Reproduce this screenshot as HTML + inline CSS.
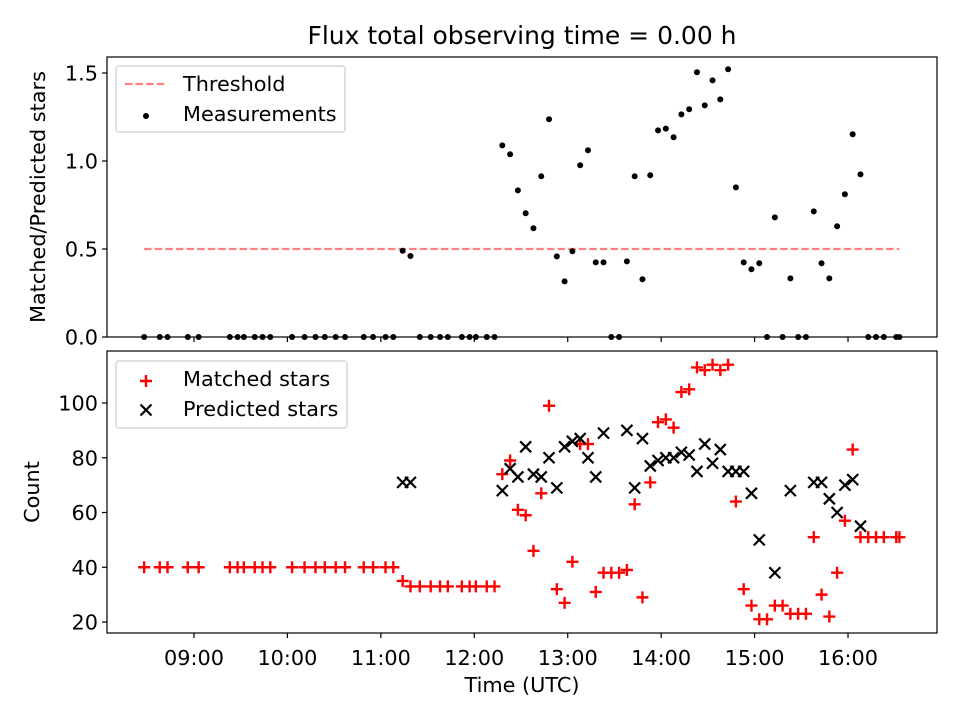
<!DOCTYPE html>
<html><head><meta charset="utf-8"><style>
html,body{margin:0;padding:0;background:#fff}
svg{display:block;font-family:"DejaVu Sans","Liberation Sans",sans-serif}
</style></head><body>
<svg id="chart" width="960" height="720" viewBox="0 0 960 720">
<rect width="960" height="720" fill="#fff"/>
<text x="522" y="44" font-size="25" text-anchor="middle">Flux total observing time = 0.00 h</text>
<g id="topPanel"></g>
<g id="botPanel"></g>
</svg>
<script>
const times = ["08:28","08:38","08:43","08:56","09:03","09:23","09:28","09:32","09:39","09:44","09:49","10:03","10:11","10:18","10:24","10:31","10:37","10:49","10:55","11:03","11:08","11:14","11:19","11:25","11:32","11:38","11:43","11:52","11:57","12:01","12:08","12:13",
"12:18","12:23","12:28","12:33","12:38","12:43","12:48","12:53","12:58","13:03","13:08","13:13","13:18","13:23","13:28","13:33","13:38","13:43","13:48","13:53","13:58","14:03","14:08","14:13","14:18","14:23","14:28","14:33","14:38","14:43","14:48","14:53","14:58","15:03","15:08","15:13","15:18","15:23","15:28","15:33","15:38","15:43","15:48","15:53","15:58","16:03","16:08","16:13","16:18","16:23","16:31","16:33"];
const flux = [0,0,0,0,0,0,0,0,0,0,0,0,0,0,0,0,0,0,0,0,0,0.49,0.46,0,0,0,0,0,0,0,0,0,
1.089,1.038,0.833,0.703,0.618,0.913,1.237,0.458,0.316,0.487,0.976,1.061,0.424,0.424,0,0,0.43,0.913,0.328,0.919,1.174,1.184,1.135,1.265,1.294,1.504,1.316,1.458,1.35,1.521,0.85,0.424,0.385,0.419,0,0.68,0,0.333,0,0,0.714,0.419,0.333,0.629,0.811,1.152,0.924,0,0,0,0,0];
const matched = [40,40,40,40,40,40,40,40,40,40,40,40,40,40,40,40,40,40,40,40,40,35,33,33,33,33,33,33,33,33,33,33,
74,79,61,59,46,67,99,32,27,42,85,85,31,38,38,38,39,63,29,71,93,94,91,104,105,113,112,114,112,114,64,32,26,21,21,26,26,23,23,23,51,30,22,38,57,83,51,51,51,51,51,51];
const predicted = [null,null,null,null,null,null,null,null,null,null,null,null,null,null,null,null,null,null,null,null,null,71,71,null,null,null,null,null,null,null,null,null,
68,76,73,84,74,73,80,69,84,86,87,80,73,89,null,null,90,69,87,77,79,80,80,82,81,75,85,78,83,75,75,75,67,50,null,38,null,68,null,null,71,71,65,60,70,72,55,null,null,null,null,null];
const threshold = 0.5;
const xTicks = ["09:00","10:00","11:00","12:00","13:00","14:00","15:00","16:00"];
const topTicks = [0,0.5,1.0,1.5];
const botTicks = [20,40,60,80,100];

const FS=20.8;
const NS="http://www.w3.org/2000/svg";
function mins(t){const p=t.split(":");return +p[0]*60+ +p[1];}
function X(t){return 194+(mins(t)-540)*93.43/60;}
function YT(v){return 337-v*176;}
function YB(v){return 622-(v-20)*2.7375;}
function mk(parent,tag,attrs){const e=document.createElementNS(NS,tag);for(const k in attrs)e.setAttribute(k,attrs[k]);parent.appendChild(e);return e;}
const gTop=document.getElementById('topPanel'), gBot=document.getElementById('botPanel');

let f=mk(gTop,'rect',{x:107,y:57,width:830,height:280,fill:'none',stroke:'#000','stroke-width':1.2});


f=mk(gBot,'rect',{x:107,y:351,width:830,height:282,fill:'none',stroke:'#000','stroke-width':1.2});



xTicks.forEach(t=>{
  const x=X(t);
  let l=mk(gTop,'line',{x1:x,x2:x,y1:337,y2:342,stroke:'#000','stroke-width':1.2});
  
  
  l=mk(gBot,'line',{x1:x,x2:x,y1:633,y2:638,stroke:'#000','stroke-width':1.2});
  
  
  const tx=mk(gBot,'text',{x:x,y:665,'font-size':FS,'text-anchor':'middle'});
  tx.textContent=t;
  
  
});
topTicks.forEach(v=>{
  const y=YT(v);
  const l=mk(gTop,'line',{x1:102,x2:107,y1:y,y2:y,stroke:'#000','stroke-width':1.2});
  
  
  const tx=mk(gTop,'text',{x:98,y:y+7.5,'font-size':FS,'text-anchor':'end'});
  tx.textContent=v.toFixed(1);
  
  
});
botTicks.forEach(v=>{
  const y=YB(v);
  const l=mk(gBot,'line',{x1:102,x2:107,y1:y,y2:y,stroke:'#000','stroke-width':1.2});
  
  
  const tx=mk(gBot,'text',{x:98,y:y+7.5,'font-size':FS,'text-anchor':'end'});
  tx.textContent=v;
  
  
});
let lab=mk(gBot,'text',{x:522,y:692,'font-size':FS,'text-anchor':'middle'});
lab.textContent='Time (UTC)';


lab=mk(gTop,'text',{x:0,y:0,'font-size':FS,'text-anchor':'middle',transform:'translate(45,197) rotate(-90)'});
lab.textContent='Matched/Predicted stars';


lab=mk(gBot,'text',{x:0,y:0,'font-size':FS,'text-anchor':'middle',transform:'translate(39,492) rotate(-90)'});
lab.textContent='Count';



const th=mk(gTop,'line',{x1:X(times[0]),x2:X(times[times.length-1]),y1:YT(threshold),y2:YT(threshold),stroke:'#ff8080','stroke-width':2.2,'stroke-dasharray':'7.4,3.2'});



times.forEach((t,i)=>{
  const c=mk(gTop,'circle',{cx:X(t),cy:YT(flux[i]),r:3,fill:'#000'});
  
  
});
function plus(g,x,y){
  return mk(g,'path',{d:`M${x-6},${y}H${x+6}M${x},${y-6}V${y+6}`,stroke:'#f00','stroke-width':2.4,fill:'none'});
}
function cross(g,x,y){
  return mk(g,'path',{d:`M${x-5.5},${y-5.5}L${x+5.5},${y+5.5}M${x-5.5},${y+5.5}L${x+5.5},${y-5.5}`,stroke:'#000','stroke-width':2.2,fill:'none'});
}
times.forEach((t,i)=>{
  const p=plus(gBot,X(t),YB(matched[i]));
  
  
});
times.forEach((t,i)=>{
  if(predicted[i]==null)return;
  const p=cross(gBot,X(t),YB(predicted[i]));
  
  
});

let lg=mk(gTop,'g',{});


mk(lg,'rect',{x:116,y:66,width:229,height:66,rx:3,fill:'#fff','fill-opacity':0.85,stroke:'#ccc','stroke-width':1.2});
mk(lg,'line',{x1:125,x2:167,y1:84,y2:84,stroke:'#ff8080','stroke-width':2.2,'stroke-dasharray':'7.4,3.2'});
let tt=mk(lg,'text',{x:183,y:91,'font-size':FS});tt.textContent='Threshold';


mk(lg,'circle',{cx:146,cy:116,r:3,fill:'#000'});
tt=mk(lg,'text',{x:183,y:121,'font-size':FS});tt.textContent='Measurements';



lg=mk(gBot,'g',{});


mk(lg,'rect',{x:116,y:361,width:231,height:67,rx:3,fill:'#fff','fill-opacity':0.85,stroke:'#ccc','stroke-width':1.2});
plus(lg,146,381);
tt=mk(lg,'text',{x:183,y:386,'font-size':FS});tt.textContent='Matched stars';


cross(lg,146,410);
tt=mk(lg,'text',{x:183,y:416,'font-size':FS});tt.textContent='Predicted stars';


</script>
</body></html>
